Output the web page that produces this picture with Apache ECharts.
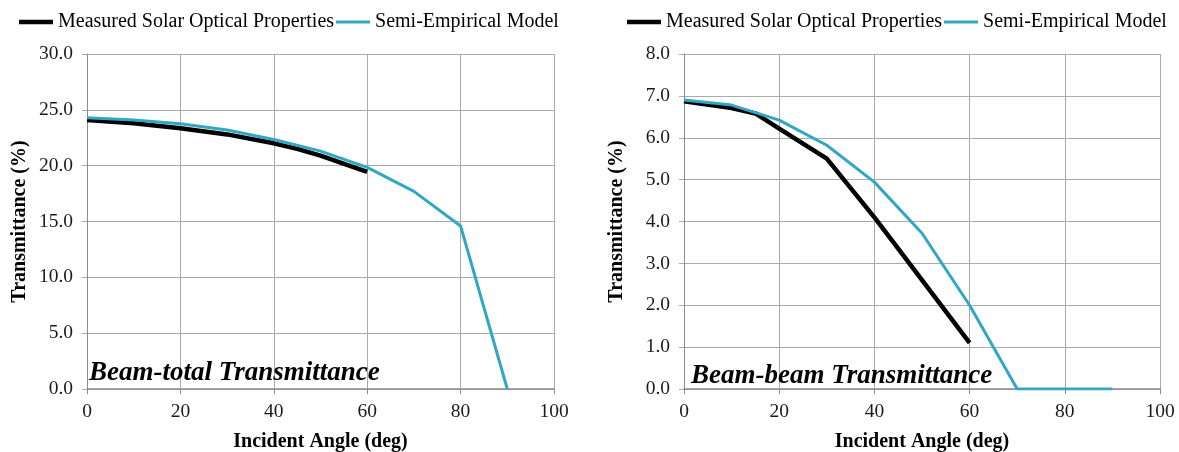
<!DOCTYPE html>
<html>
<head>
<meta charset="utf-8">
<script src="https://cdn.jsdelivr.net/npm/echarts@6/dist/echarts.min.js"></script>
<style>html,body{margin:0;padding:0;background:#fff}#c{width:1179px;height:452px}</style>
</head>
<body>
<div id="c"></div>
<script>
// Left panel: Beam-total transmittance (%)
const totalMeasuredAngles = [0, 10, 20, 30, 40, 45, 50, 60];
const totalMeasured = [24.1, 23.8, 23.35, 22.8, 22.0, 21.5, 20.9, 19.45];
const totalModelAngles = [0, 10, 20, 30, 40, 50, 60, 70, 80, 90];
const totalModel = [24.3, 24.1, 23.75, 23.2, 22.35, 21.3, 19.85, 17.7, 14.6, 0.0];

// Right panel: Beam-beam transmittance (%)
const beamMeasuredAngles = [0, 10, 15, 20, 30, 40, 45, 60];
const beamMeasured = [6.87, 6.71, 6.58, 6.22, 5.5, 4.1, 3.35, 1.1];
const beamModelAngles = [0, 10, 15, 20, 30, 40, 50, 60, 70, 80, 90];
const beamModel = [6.9, 6.78, 6.6, 6.42, 5.82, 4.94, 3.72, 2.0, 0.0, 0.0, 0.0];

const seriesNames = ['Measured Solar Optical Properties', 'Semi-Empirical Model'];
const panelLabels = ['Beam-total Transmittance', 'Beam-beam Transmittance'];
const xTitle = 'Incident Angle (deg)';
const yTitle = 'Transmittance (%)';

const FONT = 'Liberation Serif';
const BLACK = '#000000';
const CYAN = '#31a7c3';

// legend swatches: thick black bar, thinner cyan bar (outer slivers only fix the box height)
const ICON_THICK = 'path://M0,0H36V5H0Z';
const ICON_THIN = 'path://M0,0H36V0.01H0Z M0,1H36V4H0Z M0,4.99H36V5H0Z';

function pairs(xs, ys) { return xs.map((x, i) => [x, ys[i]]); }

function xAxis(gi) {
  return {
    gridIndex: gi, type: 'value', min: 0, max: 100, interval: 20,
    name: xTitle, nameLocation: 'middle', nameGap: 43,
    nameTextStyle: { fontFamily: FONT, fontWeight: 'bold', fontSize: 20, color: '#000' },
    axisLine: { show: true, lineStyle: { color: '#8c8c8c', width: 1.5 } },
    axisTick: { show: true, length: 5, lineStyle: { color: '#8c8c8c' } },
    axisLabel: { fontFamily: FONT, fontSize: 19.5, color: '#1a1a1a', margin: 13 },
    splitLine: { show: true, lineStyle: { color: '#ababab', width: 1 } }
  };
}
function yAxis(gi, max, interval) {
  return {
    gridIndex: gi, type: 'value', min: 0, max: max, interval: interval,
    name: yTitle, nameLocation: 'middle', nameGap: 57,
    nameTextStyle: { fontFamily: FONT, fontWeight: 'bold', fontSize: 20, color: '#000' },
    axisLine: { show: true, lineStyle: { color: '#8c8c8c', width: 1 } },
    axisTick: { show: true, length: 5, lineStyle: { color: '#ababab' } },
    axisLabel: { fontFamily: FONT, fontSize: 19.5, color: '#1a1a1a', margin: 14, formatter: v => v.toFixed(1) },
    splitLine: { show: true, lineStyle: { color: '#ababab', width: 1 } }
  };
}
function legend(left) {
  return {
    left: left, top: 7, itemWidth: 34, itemHeight: 5, itemGap: 2,
    textStyle: { fontFamily: FONT, fontSize: 20, color: '#000' },
    data: [
      { name: seriesNames[0], icon: ICON_THICK, itemStyle: { color: BLACK } },
      { name: seriesNames[1], icon: ICON_THIN, itemStyle: { color: CYAN } }
    ]
  };
}
function line(name, data, xi, color, width, z) {
  return {
    name: name, type: 'line', xAxisIndex: xi, yAxisIndex: xi, data: data,
    symbol: 'none', showSymbol: false, smooth: false, z: z,
    lineStyle: { color: color, width: width }, itemStyle: { color: color }
  };
}

const chart = echarts.init(document.getElementById('c'), null, { renderer: 'canvas' });
chart.setOption({
  animation: false,
  backgroundColor: '#ffffff',
  grid: [
    { left: 87, right: 625, top: 54, bottom: 63, containLabel: false, outerBoundsMode: 'none' },
    { left: 684, right: 19, top: 54, bottom: 63, containLabel: false, outerBoundsMode: 'none' }
  ],
  legend: [legend(14), legend(622)],
  title: [
    { text: panelLabels[0], left: 84, top: 355,
      textStyle: { fontFamily: FONT, fontStyle: 'italic', fontWeight: 'bold', fontSize: 27, color: '#000' } },
    { text: panelLabels[1], left: 686, top: 358,
      textStyle: { fontFamily: FONT, fontStyle: 'italic', fontWeight: 'bold', fontSize: 27, color: '#000' } }
  ],
  xAxis: [xAxis(0), xAxis(1)],
  yAxis: [yAxis(0, 30, 5), yAxis(1, 8, 1)],
  series: [
    line(seriesNames[0], pairs(totalMeasuredAngles, totalMeasured), 0, BLACK, 4.5, 2),
    line(seriesNames[1], pairs(totalModelAngles, totalModel), 0, CYAN, 3, 3),
    line(seriesNames[0], pairs(beamMeasuredAngles, beamMeasured), 1, BLACK, 4.5, 2),
    line(seriesNames[1], pairs(beamModelAngles, beamModel), 1, CYAN, 3, 3)
  ]
});
</script>
</body>
</html>
